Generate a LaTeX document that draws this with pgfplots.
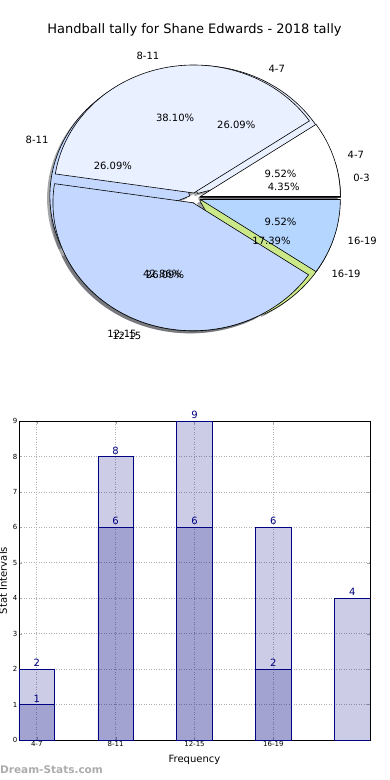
\documentclass[border=0pt]{standalone}
\usepackage{pgfplots}
\pgfplotsset{compat=1.18}
\usepackage{fontspec}
\setmainfont{DejaVu Sans}
\pgfkeys{/pgf/number format/assume math mode=true}
\definecolor{pta}{HTML}{505050}
\definecolor{ptb}{HTML}{E9F0FF}
\definecolor{ptc}{HTML}{C4D8FF}
\definecolor{ptd}{HTML}{C4D8FF}
\definecolor{pte}{HTML}{CCE98A}
\definecolor{pob}{HTML}{E9F0FF}
\definecolor{poc}{HTML}{C4D8FF}
\definecolor{pod}{HTML}{B4D6FF}
\definecolor{shadowc}{HTML}{4A4D55}
\definecolor{navyc}{HTML}{000080}
\definecolor{gridc}{HTML}{B0B0B0}
% pie data: value/colour/label
\def\pieone{2/white/4-7,8/pob/8-11,9/poc/12-15,2/pod/16-19}
\def\pietwo{1/pta/0-3,6/ptb/4-7,6/ptc/8-11,6/ptd/12-15,4/pte/16-19}
\def\expl{0.04}
\newcommand\pieshadows[2]{%
 \gdef\acc{0}%
 \foreach \vv/\cc/\ll in #2 {%
   \pgfmathsetmacro\aa{\acc}\pgfmathsetmacro\bb{\acc+360*\vv/#1}\pgfmathsetmacro\mm{(\aa+\bb)/2}%
   \pgfmathsetmacro\ox{\expl*cos(\mm)-0.02}\pgfmathsetmacro\oy{\expl*sin(\mm)-0.02}%
   \fill[shadowc, opacity=0.5] (axis cs:\ox,\oy) -- (axis cs:{\ox+cos(\aa)},{\oy+sin(\aa)}) arc[start angle=\aa,end angle=\bb,x radius=140pt,y radius=128pt] -- cycle;%
   \xdef\acc{\bb}}}
\newcommand\piewedges[2]{%
 \gdef\acc{0}%
 \foreach \vv/\cc/\ll in #2 {%
   \pgfmathsetmacro\aa{\acc}\pgfmathsetmacro\bb{\acc+360*\vv/#1}\pgfmathsetmacro\mm{(\aa+\bb)/2}%
   \pgfmathsetmacro\ox{\expl*cos(\mm)}\pgfmathsetmacro\oy{\expl*sin(\mm)}%
   \filldraw[fill=\cc, draw=black, line width=0.6pt, line join=miter] (axis cs:\ox,\oy) -- (axis cs:{\ox+cos(\aa)},{\oy+sin(\aa)}) arc[start angle=\aa,end angle=\bb,x radius=140pt,y radius=128pt] -- cycle;%
   \xdef\acc{\bb}}}
\newcommand\pielabels[2]{%
 \gdef\acc{0}%
 \foreach \vv/\cc/\ll in #2 {%
   \pgfmathsetmacro\aa{\acc}\pgfmathsetmacro\bb{\acc+360*\vv/#1}\pgfmathsetmacro\mm{(\aa+\bb)/2}%
   \pgfmathsetmacro\cm{cos(\mm)}\pgfmathsetmacro\sm{sin(\mm)}%
   \pgfmathsetmacro\pp{100*\vv/#1}%
   \ifdim\cm pt>0pt \def\anc{west}\else\def\anc{east}\fi
   \node[anchor=\anc, inner sep=0pt, font=\fontsize{10}{12}\selectfont] at (axis cs:{(\expl+1.1)*\cm},{(\expl+1.1)*\sm}) {\ll};%
   \node[anchor=center, inner sep=0pt, font=\fontsize{10}{12}\selectfont] at (axis cs:{(\expl+0.6)*\cm},{(\expl+0.6)*\sm}) {\pgfmathprintnumber[fixed,fixed zerofill,precision=2]{\pp}\%};%
   \xdef\acc{\bb}}}
\begin{document}
\begin{tikzpicture}
\path[use as bounding box] (0pt,0pt) rectangle (390pt,780pt);
\node[anchor=center, inner sep=0pt, font=\fontsize{13}{15}\selectfont] at (194.5pt,750pt) {Handball tally for Shane Edwards - 2018 tally};
\begin{axis}[at={(195pt,582pt)}, anchor=center, width=336pt, height=307.2pt, scale only axis,
  xmin=-1.2, xmax=1.2, ymin=-1.2, ymax=1.2, hide axis, clip=false]
\addplot[draw=none] coordinates {(0,0)};
\pgfplotsextra{%
  \pieshadows{23}{\pietwo}%
  \pieshadows{21}{\pieone}%
  \piewedges{23}{\pietwo}%
  \piewedges{21}{\pieone}%
  \pielabels{23}{\pietwo}%
  \pielabels{21}{\pieone}%
}
\end{axis}
\begin{axis}[at={(19pt,40pt)}, anchor=south west, width=351pt, height=319pt, scale only axis,
  xmin=-0.225, xmax=4.225, ymin=0, ymax=9,
  ytick={0,...,9}, xtick={0,1,2,3}, xticklabels={4-7,8-11,12-15,16-19},
  ybar, bar width=0.45, bar shift=0pt,
  grid=major, grid style={gridc, line width=0.7pt, dash pattern=on 0.8pt off 1.7pt},
  tick align=inside, major tick length=3pt, tick style={gray!70},
  ticklabel style={font=\fontsize{7}{8}\selectfont, inner sep=1.5pt},
  xlabel={Frequency}, ylabel={Stat Intervals},
  label style={font=\fontsize{10}{12}\selectfont},
  xlabel style={at={(axis description cs:0.5,-0.063)}, anchor=center},
  ylabel style={at={(axis description cs:-0.045,0.5)}, anchor=center},
  nodes near coords,
  nodes near coords style={font=\fontsize{10}{12}\selectfont, text=navyc, text opacity=1, anchor=south, inner sep=2pt},
  axis line style={black, line width=0.8pt},
]
\addplot[fill=navyc, fill opacity=0.2, draw=navyc, line width=0.6pt] coordinates {(0,2) (1,8) (2,9) (3,6) (4,4)};
\addplot[fill=navyc, fill opacity=0.2, draw=navyc, line width=0.6pt] coordinates {(0,1) (1,6) (2,6) (3,2)};
\end{axis}
\node[anchor=west, inner sep=0pt, text=gray!65, font=\bfseries\fontsize{10.5}{12}\selectfont] at (0pt,10pt) {Dream-Stats.com};
\end{tikzpicture}
\end{document}
